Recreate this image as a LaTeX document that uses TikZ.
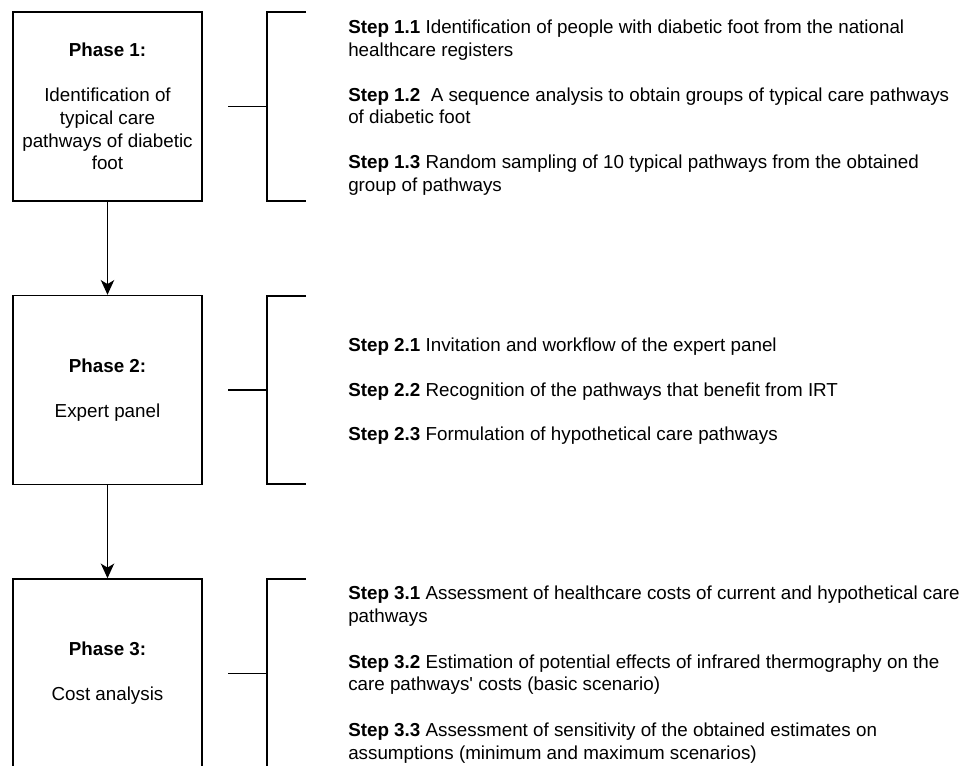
\documentclass[tikz,border=0pt]{standalone}
\usepackage{fontspec}
\setmainfont{Liberation Sans}
\usepackage{tikz}
\usetikzlibrary{arrows.meta}
\tikzset{
  % node options
  phase/.style={rectangle,draw,line width=1.1pt,minimum width=141.75pt,
    minimum height=141.75pt,align=center,inner sep=0pt,
    font=\fontsize{14.1}{16.9}\selectfont},
  stepitem/.style={anchor=base west,align=left,inner sep=0pt,
    font=\fontsize{14.1}{16.9}\selectfont},
  % path options
  flow/.style={-{Stealth[length=11pt,width=10pt,inset=3pt]},line width=1.1pt},
  bracket/.style={line width=1.1pt},
}

\begin{document}
\begin{tikzpicture}[x=0.75pt,y=-0.75pt]
  \useasboundingbox (0,0) rectangle (965,766);
  \node[phase] (phase1) at (107.5,106.5)
    {\textbf{Phase 1:}\\[16.9pt]Identification of\\typical care\\pathways of diabetic\\foot};
  \node[phase] (phase2) at (107.5,390)
    {\textbf{Phase 2:}\\[16.9pt]Expert panel};
  \node[phase] (phase3) at (107.5,673.5)
    {\textbf{Phase 3:}\\[16.9pt]Cost analysis};
  \draw[flow] (phase1) -- (phase2);
  \draw[flow] (phase2) -- (phase3);
  % brackets
  \coordinate (brk1) at (267,106.5);
  \coordinate (brk2) at (267,390);
  \coordinate (brk3) at (267,673.5);
  \draw[bracket] (306,12) -| (267,201) -- (306,201);
  \draw[bracket] (306,296) -| (267,484) -- (306,484);
  \draw[bracket] (306,579) -| (267,768) -- (306,768);
  \draw[bracket] (brk1) -- ++(-39,0);
  \draw[bracket] (brk2) -- ++(-39,0);
  \draw[bracket] (brk3) -- ++(-39,0);
  % steps (base = last line)
  \node[stepitem] (s11) at (348,56.5) {\textbf{Step 1.1} Identification of people with diabetic foot from the national\\healthcare registers};
  \node[stepitem] (s12) at (348,124) {\textbf{Step 1.2}\ \ A sequence analysis to obtain groups of typical care pathways\\of diabetic foot};
  \node[stepitem] (s13) at (348,191.5) {\textbf{Step 1.3} Random sampling of 10 typical pathways from the obtained\\group of pathways};
  \node[stepitem] (s21) at (348,352) {\textbf{Step 2.1} Invitation and workflow of the expert panel};
  \node[stepitem] (s22) at (348,397) {\textbf{Step 2.2} Recognition of the pathways that benefit from IRT};
  \node[stepitem] (s23) at (348,441) {\textbf{Step 2.3} Formulation of hypothetical care pathways};
  \node[stepitem] (s31) at (348,622.5) {\textbf{Step 3.1} Assessment of healthcare costs of current and hypothetical care\\pathways};
  \node[stepitem] (s32) at (348,691) {\textbf{Step 3.2} Estimation of potential effects of infrared thermography on the\\care pathways\textquotesingle{} costs (basic scenario)};
  \node[stepitem] (s33) at (348,759) {\textbf{Step 3.3} Assessment of sensitivity of the obtained estimates on\\assumptions (minimum and maximum scenarios)};
\end{tikzpicture}
\end{document}
